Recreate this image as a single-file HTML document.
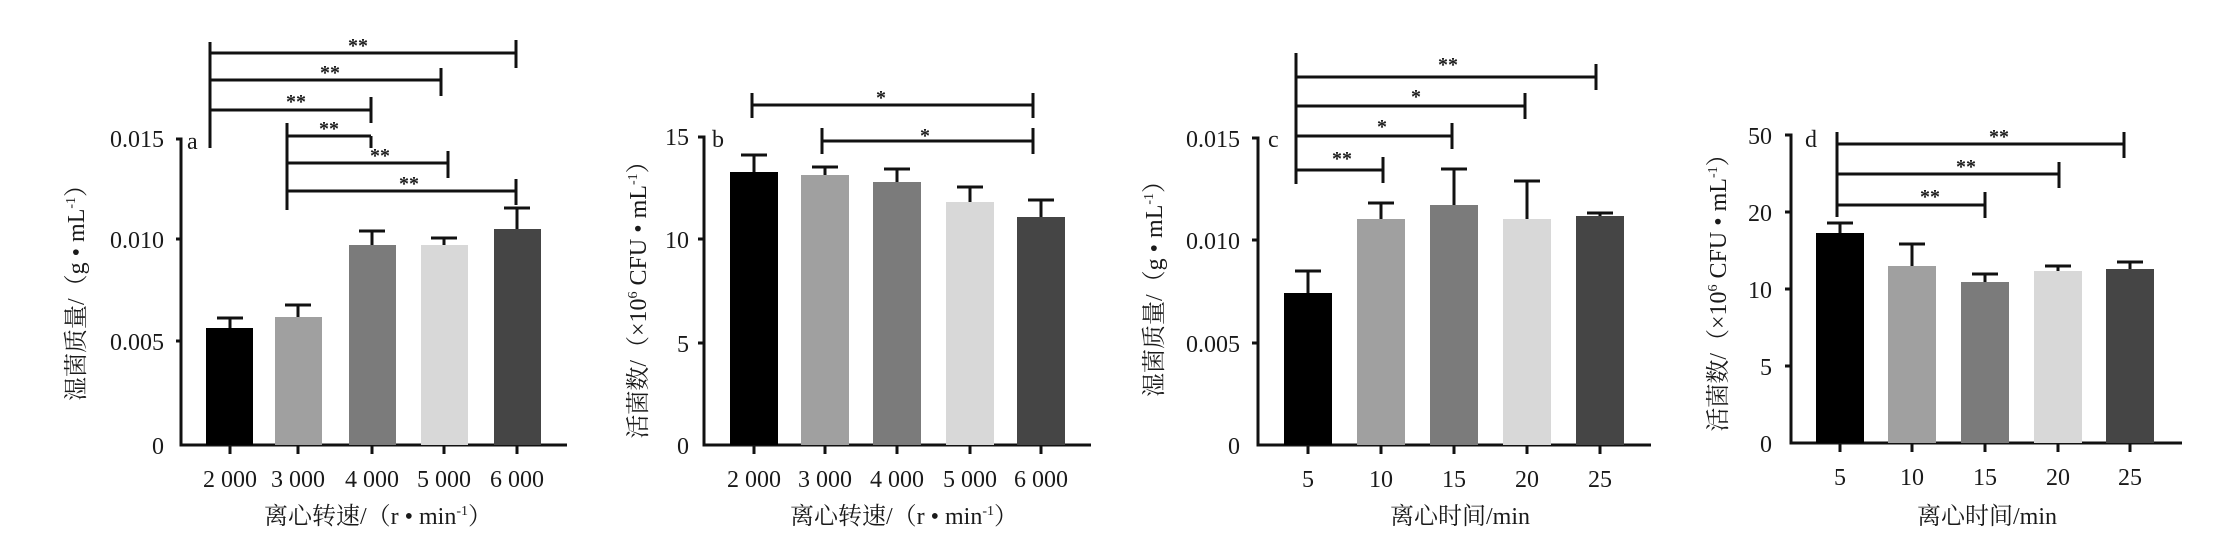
<!DOCTYPE html>
<html><head><meta charset="utf-8"><style>
html,body{margin:0;padding:0;background:#fff;}
svg{display:block}
text{font-family:"Liberation Serif","Noto Serif CJK SC","Noto Sans CJK SC",serif;fill:#1a1a1a}
.t{font-size:24px}
.s{font-size:20px;font-weight:bold;font-family:"Liberation Sans",sans-serif}
</style></head><body>
<svg width="2227" height="547" viewBox="0 0 2227 547" xmlns="http://www.w3.org/2000/svg">
<g stroke="#111" stroke-width="3" fill="none">
<path d="M176 139 H181 V445 H567"/>
<path d="M176 239 H181 M176 341 H181"/>
<path d="M230 445 v9 M298 445 v9 M372 445 v9 M444 445 v9 M517 445 v9"/>
</g>
<g>
<rect x="206" y="328" width="47" height="117" fill="#000"/>
<rect x="275" y="317" width="47" height="128" fill="#a0a0a0"/>
<rect x="349" y="245" width="47" height="200" fill="#7b7b7b"/>
<rect x="421" y="245" width="47" height="200" fill="#d8d8d8"/>
<rect x="494" y="229" width="47" height="216" fill="#454545"/>
</g>
<g stroke="#111" stroke-width="3" fill="none">
<path d="M230 328 V318 M217 318 H243"/>
<path d="M298 317 V305 M285 305 H311"/>
<path d="M372 245 V231 M359 231 H385"/>
<path d="M444 245 V238 M431 238 H457"/>
<path d="M517 229 V208 M504 208 H530"/>
<path d="M210 42 V148 M210 53 H516 M516 40 V68"/>
<path d="M210 80 H441 M441 68 V96"/>
<path d="M210 110 H371 M371 97 V123"/>
<path d="M287 123 V210 M287 136 H371 M371 136 V148"/>
<path d="M287 163 H448 M448 151 V178"/>
<path d="M287 191 H516 M516 179 V205"/>
</g>
<g class="s" text-anchor="middle">
<text x="358" y="52">**</text><text x="330" y="79">**</text><text x="296" y="108">**</text>
<text x="329" y="135">**</text><text x="380" y="162">**</text><text x="409" y="190">**</text>
</g>
<g class="t" text-anchor="end">
<text x="164" y="147">0.015</text><text x="164" y="248">0.010</text><text x="164" y="350">0.005</text><text x="164" y="454">0</text>
</g>
<text class="t" x="187" y="149">a</text>
<g class="t" text-anchor="middle">
<text x="230" y="487">2 000</text><text x="298" y="487">3 000</text><text x="372" y="487">4 000</text><text x="444" y="487">5 000</text><text x="517" y="487">6 000</text>
<text x="378" y="524">离心转速/（r • min<tspan font-size="14" dy="-9">-1</tspan><tspan dy="9">）</tspan></text>
<text transform="translate(76 287) rotate(-90)" dy="8">湿菌质量/（g • mL<tspan font-size="14" dy="-9">-1</tspan><tspan dy="9">）</tspan></text>
</g>

<g stroke="#111" stroke-width="3" fill="none">
<path d="M698 137 H704 V445 H1091"/>
<path d="M698 239 H704 M698 343 H704"/>
<path d="M754 445 v9 M825 445 v9 M897 445 v9 M970 445 v9 M1041 445 v9"/>
</g>
<rect x="730" y="172" width="48" height="273" fill="#000"/>
<rect x="801" y="175" width="48" height="270" fill="#a0a0a0"/>
<rect x="873" y="182" width="48" height="263" fill="#7b7b7b"/>
<rect x="946" y="202" width="48" height="243" fill="#d8d8d8"/>
<rect x="1017" y="217" width="48" height="228" fill="#454545"/>
<g stroke="#111" stroke-width="3" fill="none">
<path d="M754 172 V155 M741 155 H767"/>
<path d="M825 175 V167 M812 167 H838"/>
<path d="M897 182 V169 M884 169 H910"/>
<path d="M970 202 V187 M957 187 H983"/>
<path d="M1041 217 V200 M1028 200 H1054"/>
<path d="M752 93 V118 M752 105 H1033 M1033 93 V118"/>
<path d="M822 128 V154 M822 141 H1033 M1033 128 V154"/>
</g>
<g class="s" text-anchor="middle"><text x="881" y="104">*</text><text x="925" y="142">*</text></g>
<g class="t" text-anchor="end">
<text x="689" y="145">15</text><text x="689" y="248">10</text><text x="689" y="352">5</text><text x="689" y="454">0</text>
</g>
<text class="t" x="712" y="147">b</text>
<g class="t" text-anchor="middle">
<text x="754" y="487">2 000</text><text x="825" y="487">3 000</text><text x="897" y="487">4 000</text><text x="970" y="487">5 000</text><text x="1041" y="487">6 000</text>
<text x="904" y="524">离心转速/（r • min<tspan font-size="14" dy="-9">-1</tspan><tspan dy="9">）</tspan></text>
<text transform="translate(638 294) rotate(-90)" dy="8">活菌数/（×10<tspan font-size="14" dy="-9">6</tspan><tspan dy="9"> CFU • mL</tspan><tspan font-size="14" dy="-9">-1</tspan><tspan dy="9">）</tspan></text>
</g>

<g stroke="#111" stroke-width="3" fill="none">
<path d="M1252 138 H1258 V445 H1651"/>
<path d="M1252 240 H1258 M1252 343 H1258"/>
<path d="M1308 445 v9 M1381 445 v9 M1454 445 v9 M1527 445 v9 M1600 445 v9"/>
</g>
<rect x="1284" y="293" width="48" height="152" fill="#000"/>
<rect x="1357" y="219" width="48" height="226" fill="#a0a0a0"/>
<rect x="1430" y="205" width="48" height="240" fill="#7b7b7b"/>
<rect x="1503" y="219" width="48" height="226" fill="#d8d8d8"/>
<rect x="1576" y="216" width="48" height="229" fill="#454545"/>
<g stroke="#111" stroke-width="3" fill="none">
<path d="M1308 293 V271 M1295 271 H1321"/>
<path d="M1381 219 V203 M1368 203 H1394"/>
<path d="M1454 205 V169 M1441 169 H1467"/>
<path d="M1527 219 V181 M1514 181 H1540"/>
<path d="M1600 216 V213 M1587 213 H1613"/>
<path d="M1296 53 V184"/>
<path d="M1296 77 H1596 M1596 64 V90"/>
<path d="M1296 106 H1525 M1525 93 V119"/>
<path d="M1296 136 H1452 M1452 123 V149"/>
<path d="M1296 170 H1383 M1383 157 V183"/>
</g>
<g class="s" text-anchor="middle">
<text x="1448" y="71">**</text><text x="1416" y="103">*</text><text x="1382" y="133">*</text><text x="1342" y="165">**</text>
</g>
<g class="t" text-anchor="end">
<text x="1240" y="147">0.015</text><text x="1240" y="249">0.010</text><text x="1240" y="352">0.005</text><text x="1240" y="454">0</text>
</g>
<text class="t" x="1268" y="147">c</text>
<g class="t" text-anchor="middle">
<text x="1308" y="487">5</text><text x="1381" y="487">10</text><text x="1454" y="487">15</text><text x="1527" y="487">20</text><text x="1600" y="487">25</text>
<text x="1460" y="524">离心时间/min</text>
<text transform="translate(1154 283) rotate(-90)" dy="8">湿菌质量/（g • mL<tspan font-size="14" dy="-9">-1</tspan><tspan dy="9">）</tspan></text>
</g>

<g stroke="#111" stroke-width="3" fill="none">
<path d="M1785 135 H1791 V443 H2182"/>
<path d="M1785 212 H1791 M1785 289 H1791 M1785 366 H1791"/>
<path d="M1840 443 v9 M1912 443 v9 M1985 443 v9 M2058 443 v9 M2130 443 v9"/>
</g>
<rect x="1816" y="233" width="48" height="210" fill="#000"/>
<rect x="1888" y="266" width="48" height="177" fill="#a0a0a0"/>
<rect x="1961" y="282" width="48" height="161" fill="#7b7b7b"/>
<rect x="2034" y="271" width="48" height="172" fill="#d8d8d8"/>
<rect x="2106" y="269" width="48" height="174" fill="#454545"/>
<g stroke="#111" stroke-width="3" fill="none">
<path d="M1840 233 V223 M1827 223 H1853"/>
<path d="M1912 266 V244 M1899 244 H1925"/>
<path d="M1985 282 V274 M1972 274 H1998"/>
<path d="M2058 271 V266 M2045 266 H2071"/>
<path d="M2130 269 V262 M2117 262 H2143"/>
<path d="M1837 132 V217"/>
<path d="M1837 144 H2124 M2124 132 V158"/>
<path d="M1837 174 H2059 M2059 162 V188"/>
<path d="M1837 205 H1985 M1985 192 V218"/>
</g>
<g class="s" text-anchor="middle">
<text x="1999" y="143">**</text><text x="1966" y="173">**</text><text x="1930" y="203">**</text>
</g>
<g class="t" text-anchor="end">
<text x="1772" y="144">50</text><text x="1772" y="221">20</text><text x="1772" y="298">10</text><text x="1772" y="375">5</text><text x="1772" y="452">0</text>
</g>
<text class="t" x="1805" y="147">d</text>
<g class="t" text-anchor="middle">
<text x="1840" y="485">5</text><text x="1912" y="485">10</text><text x="1985" y="485">15</text><text x="2058" y="485">20</text><text x="2130" y="485">25</text>
<text x="1987" y="524">离心时间/min</text>
<text transform="translate(1718 287) rotate(-90)" dy="8">活菌数/（×10<tspan font-size="14" dy="-9">6</tspan><tspan dy="9"> CFU • mL</tspan><tspan font-size="14" dy="-9">-1</tspan><tspan dy="9">）</tspan></text>
</g>
</svg>
</body></html>
